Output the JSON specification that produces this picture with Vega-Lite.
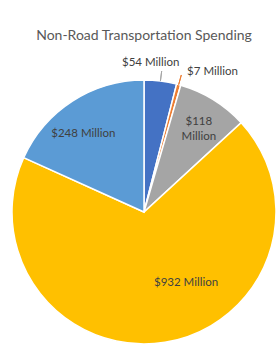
{
  "$schema": "https://vega.github.io/schema/vega-lite/v6.json",
  "width": 264,
  "height": 264,
  "autosize": {"type": "none"},
  "padding": {"left": 12, "top": 80, "right": 2, "bottom": 1},
  "background": "white",
  "config": {"view": {"stroke": null}},
  "title": {
    "text": "Non-Road Transportation Spending",
    "font": "Lato",
    "fontSize": 14,
    "fontWeight": "normal",
    "color": "#595959",
    "anchor": "middle",
    "offset": 14
  },
  "data": {
    "values": [
      {"cat": "Category 1", "rank": 1, "value": 54, "label": "$54 Million"},
      {"cat": "Category 2", "rank": 2, "value": 7, "label": "$7 Million"},
      {"cat": "Category 3", "rank": 3, "value": 118, "label": "$118 Million"},
      {"cat": "Category 4", "rank": 4, "value": 932, "label": "$932 Million"},
      {"cat": "Category 5", "rank": 5, "value": 248, "label": "$248 Million"}
    ]
  },
  "encoding": {
    "theta": {"field": "value", "type": "quantitative", "stack": true},
    "order": {"field": "rank", "type": "quantitative"}
  },
  "layer": [
    {
      "mark": {"type": "arc", "outerRadius": 132, "stroke": "white", "strokeWidth": 1.5},
      "encoding": {
        "color": {
          "field": "cat",
          "type": "nominal",
          "scale": {"domain": ["Category 1", "Category 2", "Category 3", "Category 4", "Category 5"], "range": ["#4472C4", "#ED7D31", "#A5A5A5", "#FFC000", "#5B9BD5"]},
          "legend": null
        }
      }
    },
    {
      "mark": {"type": "arc", "innerRadius": 132, "outerRadius": 142, "padAngle": 0.4, "fill": "transparent", "strokeWidth": 1},
      "encoding": {
        "detail": {"field": "cat"},
        "stroke": {
          "condition": [
            {"test": "datum.rank == 1", "value": "#A5A5A5"},
            {"test": "datum.rank == 2", "value": "#ED7D31"}
          ],
          "value": "transparent"
        }
      }
    },
    {
      "mark": {"type": "text", "radius": 150, "dx": -12, "font": "Lato", "fontSize": 11.5, "fill": "#404040"},
      "encoding": {"detail": {"field": "cat"}, "text": {"condition": {"test": "datum.rank == 1", "field": "label"}, "value": ""}}
    },
    {
      "mark": {"type": "text", "radius": 145, "dx": 5, "align": "left", "font": "Lato", "fontSize": 11.5, "fill": "#404040"},
      "encoding": {"detail": {"field": "cat"}, "text": {"condition": {"test": "datum.rank == 2", "field": "label"}, "value": ""}}
    },
    {
      "mark": {"type": "text", "radius": 106, "dx": -1, "lineBreak": " ", "lineHeight": 15, "font": "Lato", "fontSize": 11.5, "fill": "#404040"},
      "encoding": {"detail": {"field": "cat"}, "text": {"condition": {"test": "datum.rank == 3", "field": "label"}, "value": ""}}
    },
    {
      "mark": {"type": "text", "radius": 82, "dx": 29, "dy": -10, "font": "Lato", "fontSize": 11.5, "fill": "#404040"},
      "encoding": {"detail": {"field": "cat"}, "text": {"condition": {"test": "datum.rank == 4", "field": "label"}, "value": ""}}
    },
    {
      "mark": {"type": "text", "radius": 99, "dx": -7, "dy": 5, "font": "Lato", "fontSize": 11.5, "fill": "#404040"},
      "encoding": {"detail": {"field": "cat"}, "text": {"condition": {"test": "datum.rank == 5", "field": "label"}, "value": ""}}
    }
  ]
}
